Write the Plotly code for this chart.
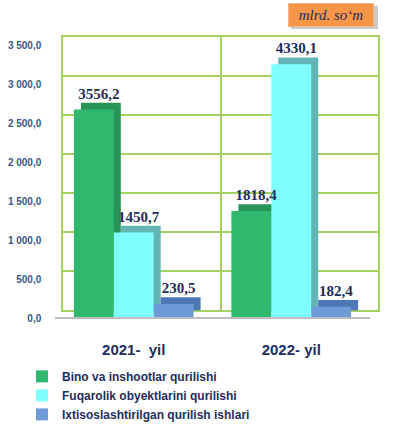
import plotly.graph_objects as go

# ---- data ----
categories = ["2021-\u00a0 yil", "2022- yil"]
series_names = ["Bino va inshootlar qurilishi",
                "Fuqarolik obyektlarini qurilishi",
                "Ixtisoslashtirilgan qurilish ishlari"]
bino = [3556.2, 1818.4]
fuqarolik = [1450.7, 4330.1]
ixtisos = [230.5, 182.4]
y_ticks = [0, 500, 1000, 1500, 2000, 2500, 3000, 3500]
unit_label = "mlrd. so\u2018m"

series_values = [bino, fuqarolik, ixtisos]
front_colors = ["#2FB86E", "#80FFFF", "#6E9BD8"]
side_colors = ["#279555", "#63B5B5", "#4D77B5"]

W, H = 393, 432
def fx(p):
    return p / W
def fy(p):
    return (H - p) / H

BAR_TOP = 4800  # visual range of the (perspective) bar axes
GRID = "#A3D164"
TXT = "#1F2D5C"

fig = go.Figure()

# back faces (depth) of the 3D columns
for name, vals, col in zip(series_names, series_values, side_colors):
    fig.add_trace(go.Bar(
        x=categories, y=vals, xaxis="x2", yaxis="y2", marker=dict(color=col, line=dict(width=0)),
        showlegend=False, hoverinfo="skip"))

# front faces
for name, vals, col in zip(series_names, series_values, front_colors):
    fig.add_trace(go.Bar(
        x=categories, y=vals, xaxis="x3", yaxis="y3", name=name,
        marker=dict(color=col, line=dict(width=0)), cliponaxis=False))

# data labels (transparent bars on top layer)
for name, vals in zip(series_names, series_values):
    fig.add_trace(go.Bar(
        x=categories, y=vals, xaxis="x4", yaxis="y4",
        marker=dict(color="rgba(0,0,0,0)", line=dict(width=0)),
        text=[f"{v:.1f}".replace(".", ",") for v in vals], textposition="outside",
        textfont=dict(family="Liberation Serif", size=15, color=TXT, weight="bold"),
        constraintext="none", cliponaxis=False, showlegend=False, hoverinfo="skip"))

# dummy trace for back wall axes
fig.add_trace(go.Scatter(x=[0], y=[0], xaxis="x", yaxis="y", mode="markers",
                         marker=dict(opacity=0), showlegend=False, hoverinfo="skip"))

shapes = []
for v in y_ticks:
    shapes.append(dict(type="line", xref="x", yref="y", xsizemode="pixel", ysizemode="pixel",
                       xanchor=-0.5, yanchor=v, x0=-11, x1=0, y0=-9, y1=0,
                       line=dict(color=GRID, width=1.5), layer="below"))
for xv in [0.5, 1.5]:
    shapes.append(dict(type="line", xref="x", yref="y", xsizemode="pixel", ysizemode="pixel",
                       xanchor=xv, yanchor=0, x0=-11, x1=0, y0=-9, y1=0,
                       line=dict(color=GRID, width=1.5), layer="below"))
shapes.append(dict(type="rect", xref="paper", yref="paper",
                   x0=fx(291), x1=fx(378), y0=fy(30), y1=fy(6),
                   fillcolor="#C9C9C9", line=dict(width=0), layer="below"))

fig.update_layout(
    width=W, height=H, margin=dict(l=0, r=0, t=0, b=0),
    paper_bgcolor="white", plot_bgcolor="rgba(0,0,0,0)",
    separators=", ",
    barmode="group", bargap=0.24, bargroupgap=0,
    showlegend=True,
    legend=dict(orientation="v", x=fx(22), y=fy(374), xanchor="left", yanchor="top",
                font=dict(family="Arial", size=12, color=TXT, weight="bold"), bgcolor="rgba(0,0,0,0)",
                tracegroupgap=0),
    xaxis=dict(domain=[fx(63), fx(378)], range=[-0.5, 1.5], tickvals=[0.5], showticklabels=False,
               showgrid=True, gridcolor=GRID, gridwidth=1.5, zeroline=False, anchor="y",
               showline=True, mirror=True, linecolor=GRID, linewidth=1.5),
    yaxis=dict(domain=[fy(320), fy(38)], range=[0, 3500], tickvals=y_ticks, tickformat=",.1f",
               showgrid=True, gridcolor=GRID, gridwidth=1.5, zeroline=False,
               showline=True, mirror=True, linecolor=GRID, linewidth=1.5,
               ticklabelshift=9, ticklabelstandoff=18, anchor="x",
               tickfont=dict(family="Arial", size=10, color="#3B5585", weight="bold")),
    xaxis2=dict(domain=[fx(62), fx(377)], type="category", visible=False, anchor="y2",
                range=[-0.5, 1.5]),
    yaxis2=dict(domain=[fy(321), fy(31)], range=[0, BAR_TOP], visible=False, anchor="x2"),
    xaxis3=dict(domain=[fx(55), fx(370)], type="category", anchor="y3", range=[-0.5, 1.5],
                showline=True, linecolor="#BDBDBD", linewidth=2, ticks="",
                ticklabelstandoff=18,
                tickfont=dict(family="Arial", size=15, color=TXT, weight="bold")),
    yaxis3=dict(domain=[fy(328), fy(38)], range=[0, BAR_TOP], visible=False, anchor="x3"),
    xaxis4=dict(domain=[fx(60), fx(375)], type="category", visible=False, anchor="y4",
                range=[-0.5, 1.5]),
    yaxis4=dict(domain=[fy(323), fy(33)], range=[0, BAR_TOP], visible=False, anchor="x4"),
    shapes=shapes,
    annotations=[dict(text=unit_label, xref="paper", yref="paper", x=fx(331), y=fy(15),
                      xanchor="center", yanchor="middle", showarrow=False,
                      font=dict(family="Liberation Serif", size=15, color=TXT, style="italic"),
                      bgcolor="#F79646", bordercolor="#F2B48A", borderwidth=1,
                      width=82, height=20)],
)

fig.write_html("out.html", config={"displayModeBar": False},
               post_script="document.body.style.margin='0';document.body.style.overflow='hidden';")
